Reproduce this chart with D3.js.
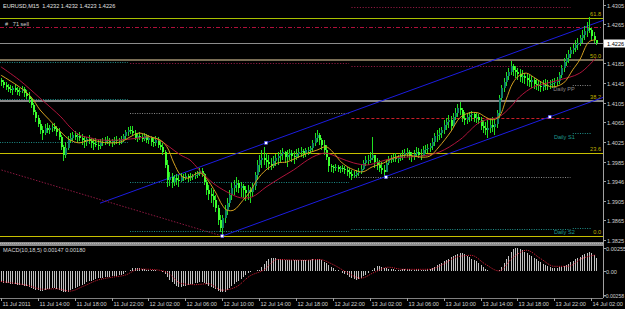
<!DOCTYPE html>
<html><head><meta charset="utf-8">
<script src="https://cdn.jsdelivr.net/npm/d3@7"></script>
<style>
body{margin:0;background:#000;}
svg{display:block;}
text{font-family:"Liberation Sans",Arial,sans-serif;}
</style>
</head><body>
<svg id="c" width="625" height="309"></svg>
<script>
// ---------------- DATA ----------------
const symbolTitle = "EURUSD,M15";
const lastOHLC = ["1.4232","1.4232","1.4223","1.4226"];
const orderText = "#   71 sell";
const startTime = "2011-07-11T10:00:00Z";   // first M15 bar
const firstOpen = 1.4151;
const bidPrice = 1.4226;
const sellPrice = 1.4259;

const high = [
1.4155,1.4151,1.4147,1.4143,1.4141,1.4139,1.4143,1.4137,1.4135,1.4139,1.4137,1.4131,1.4127,
1.4114,1.4104,1.4090,1.4080,1.4070,1.4057,1.4062,1.4064,1.4059,1.4062,1.4064,1.4057,1.4053,
1.4039,1.4019,1.4025,1.4037,1.4043,1.4045,1.4047,1.4043,1.4045,1.4041,1.4037,1.4035,1.4039,
1.4033,1.4031,1.4033,1.4029,1.4031,1.4033,1.4035,1.4037,1.4033,1.4031,1.4035,1.4037,1.4033,
1.4037,1.4041,1.4049,1.4055,1.4057,1.4057,1.4049,1.4043,1.4045,1.4041,1.4043,1.4041,1.4039,
1.4037,1.4035,1.4037,1.4035,1.4029,1.4023,1.4008,1.3988,1.3964,1.3962,1.3957,1.3960,1.3957,
1.3962,1.3960,1.3962,1.3960,1.3962,1.3960,1.3964,1.3966,1.3972,1.3972,1.3962,1.3947,1.3937,
1.3931,1.3927,1.3917,1.3896,1.3876,1.3876,1.3896,1.3911,1.3927,1.3941,1.3947,1.3953,1.3947,
1.3943,1.3939,1.3935,1.3937,1.3933,1.3941,1.3964,1.3988,1.3998,1.4008,1.4015,1.4002,1.3998,
1.3992,1.3996,1.4000,1.4004,1.4008,1.4013,1.4006,1.4008,1.4011,1.4008,1.4006,1.4011,1.4013,
1.4015,1.4011,1.4013,1.4015,1.4017,1.4029,1.4043,1.4049,1.4043,1.4033,1.4029,1.4019,1.3988,
1.3980,1.3978,1.3980,1.3978,1.3976,1.3978,1.3976,1.3974,1.3972,1.3968,1.3966,1.3968,1.3972,
1.3978,1.3988,1.3996,1.3998,1.4004,1.4035,1.3998,1.3992,1.3988,1.3984,1.3978,1.3988,1.3996,
1.3998,1.4000,1.4002,1.3998,1.4002,1.4008,1.4011,1.4013,1.4008,1.4004,1.4008,1.4015,1.4013,
1.4011,1.4017,1.4019,1.4021,1.4023,1.4033,1.4043,1.4049,1.4053,1.4055,1.4070,1.4074,1.4080,
1.4078,1.4084,1.4094,1.4102,1.4106,1.4094,1.4086,1.4084,1.4086,1.4088,1.4086,1.4084,1.4082,
1.4076,1.4070,1.4066,1.4070,1.4074,1.4076,1.4070,1.4090,1.4121,1.4141,1.4155,1.4167,1.4176,
1.4190,1.4184,1.4180,1.4176,1.4174,1.4172,1.4165,1.4163,1.4161,1.4159,1.4155,1.4153,1.4151,
1.4149,1.4151,1.4153,1.4151,1.4151,1.4153,1.4155,1.4157,1.4167,1.4182,1.4196,1.4204,1.4212,
1.4218,1.4225,1.4233,1.4237,1.4243,1.4253,1.4261,1.4269,1.4280,1.4257,1.4249,1.4232];

const low = [
1.4139,1.4135,1.4131,1.4127,1.4125,1.4121,1.4127,1.4121,1.4119,1.4125,1.4117,1.4112,1.4104,
1.4094,1.4080,1.4066,1.4055,1.4041,1.4029,1.4039,1.4043,1.4041,1.4045,1.4047,1.4037,1.4029,
1.4008,1.3986,1.3992,1.4008,1.4023,1.4027,1.4029,1.4025,1.4027,1.4019,1.4013,1.4017,1.4021,
1.4013,1.4008,1.4015,1.4008,1.4011,1.4017,1.4019,1.4021,1.4017,1.4015,1.4019,1.4021,1.4019,
1.4021,1.4025,1.4029,1.4037,1.4041,1.4037,1.4029,1.4025,1.4029,1.4025,1.4027,1.4023,1.4021,
1.4017,1.4015,1.4017,1.4013,1.4008,1.3998,1.3972,1.3933,1.3935,1.3931,1.3935,1.3937,1.3933,
1.3943,1.3945,1.3947,1.3943,1.3945,1.3947,1.3949,1.3951,1.3955,1.3953,1.3937,1.3917,1.3906,
1.3900,1.3892,1.3882,1.3856,1.3841,1.3833,1.3860,1.3876,1.3892,1.3906,1.3917,1.3923,1.3921,
1.3913,1.3911,1.3904,1.3906,1.3900,1.3913,1.3927,1.3947,1.3964,1.3972,1.3978,1.3972,1.3968,
1.3968,1.3972,1.3976,1.3978,1.3984,1.3988,1.3982,1.3974,1.3988,1.3984,1.3980,1.3988,1.3992,
1.3994,1.3992,1.3994,1.3998,1.4000,1.4004,1.4017,1.4025,1.4019,1.4008,1.3998,1.3988,1.3964,
1.3964,1.3962,1.3966,1.3964,1.3962,1.3964,1.3960,1.3955,1.3951,1.3947,1.3951,1.3953,1.3955,
1.3960,1.3968,1.3976,1.3978,1.3982,1.3988,1.3972,1.3968,1.3964,1.3960,1.3953,1.3964,1.3978,
1.3982,1.3984,1.3984,1.3982,1.3986,1.3988,1.3992,1.3994,1.3988,1.3984,1.3988,1.3994,1.3992,
1.3988,1.3996,1.4000,1.4002,1.4004,1.4008,1.4017,1.4025,1.4029,1.4033,1.4041,1.4049,1.4053,
1.4049,1.4055,1.4070,1.4076,1.4080,1.4066,1.4059,1.4062,1.4066,1.4068,1.4066,1.4064,1.4062,
1.4049,1.4043,1.4039,1.4033,1.4043,1.4045,1.4039,1.4053,1.4074,1.4110,1.4127,1.4139,1.4151,
1.4161,1.4159,1.4155,1.4151,1.4147,1.4145,1.4143,1.4139,1.4137,1.4135,1.4133,1.4131,1.4129,
1.4127,1.4129,1.4131,1.4131,1.4133,1.4135,1.4137,1.4139,1.4143,1.4155,1.4167,1.4180,1.4186,
1.4196,1.4204,1.4208,1.4212,1.4220,1.4227,1.4233,1.4239,1.4247,1.4233,1.4227,1.4223];

const close = [
1.4147,1.4141,1.4137,1.4133,1.4131,1.4135,1.4131,1.4127,1.4129,1.4133,1.4125,1.4119,1.4112,
1.4100,1.4086,1.4074,1.4062,1.4049,1.4043,1.4053,1.4049,1.4053,1.4055,1.4051,1.4045,1.4035,
1.4015,1.3998,1.4013,1.4029,1.4033,1.4039,1.4035,1.4037,1.4033,1.4029,1.4025,1.4031,1.4027,
1.4023,1.4021,1.4019,1.4017,1.4025,1.4023,1.4029,1.4027,1.4025,1.4027,1.4029,1.4027,1.4029,
1.4031,1.4037,1.4045,1.4049,1.4047,1.4043,1.4033,1.4037,1.4035,1.4031,1.4037,1.4029,1.4033,
1.4025,1.4023,1.4029,1.4019,1.4015,1.4004,1.3978,1.3947,1.3953,1.3943,1.3951,1.3947,1.3945,
1.3953,1.3951,1.3955,1.3951,1.3953,1.3955,1.3957,1.3962,1.3966,1.3960,1.3943,1.3927,1.3919,
1.3915,1.3906,1.3890,1.3866,1.3849,1.3870,1.3886,1.3900,1.3917,1.3931,1.3937,1.3941,1.3931,
1.3935,1.3927,1.3921,1.3927,1.3923,1.3935,1.3957,1.3978,1.3988,1.3992,1.3988,1.3984,1.3980,
1.3976,1.3986,1.3992,1.3996,1.4000,1.4004,1.3994,1.3998,1.4002,1.3996,1.3994,1.4000,1.4004,
1.4006,1.4002,1.4008,1.4008,1.4013,1.4023,1.4033,1.4039,1.4029,1.4019,1.4008,1.3994,1.3976,
1.3974,1.3972,1.3974,1.3970,1.3972,1.3970,1.3968,1.3964,1.3960,1.3955,1.3957,1.3962,1.3964,
1.3970,1.3982,1.3988,1.3988,1.3992,1.3998,1.3984,1.3978,1.3972,1.3968,1.3964,1.3982,1.3988,
1.3992,1.3994,1.3990,1.3992,1.3996,1.3998,1.4002,1.4004,1.3996,1.3994,1.4000,1.4004,1.3998,
1.3996,1.4008,1.4011,1.4013,1.4017,1.4025,1.4037,1.4039,1.4043,1.4049,1.4059,1.4066,1.4070,
1.4057,1.4076,1.4084,1.4094,1.4090,1.4074,1.4070,1.4076,1.4080,1.4082,1.4074,1.4076,1.4070,
1.4057,1.4053,1.4049,1.4053,1.4059,1.4055,1.4062,1.4084,1.4114,1.4135,1.4147,1.4159,1.4167,
1.4180,1.4172,1.4167,1.4163,1.4157,1.4159,1.4155,1.4151,1.4147,1.4151,1.4143,1.4141,1.4139,
1.4137,1.4141,1.4139,1.4141,1.4143,1.4145,1.4147,1.4149,1.4161,1.4176,1.4188,1.4196,1.4204,
1.4212,1.4216,1.4222,1.4227,1.4237,1.4243,1.4251,1.4257,1.4253,1.4241,1.4232,1.4226];

// moving averages read at sample bars (bar index, price)
const maFastIdx = [0,8,13,17,21,26,30,34,39,43,47,52,56,60,65,69,72,75,78,81,86,89,93,96,98,101,105,108,111,115,120,124,128,133,137,141,144,148,153,157,161,166,170,176,182,186,190,195,199,203,207,210,213,216,219,222,225,228,231,235,239,244,248,251,255,258];
const maFast    = [1.4161,1.4137,1.4117,1.4090,1.4070,1.4045,1.4029,1.4023,1.4029,1.4025,1.4023,1.4025,1.4035,1.4043,1.4035,1.4029,1.4015,1.3982,1.3957,1.3951,1.3962,1.3951,1.3923,1.3896,1.3886,1.3886,1.3906,1.3923,1.3947,1.3968,1.3982,1.3984,1.3992,1.4002,1.4008,1.4015,1.4004,1.3982,1.3968,1.3964,1.3974,1.3982,1.3992,1.3998,1.3994,1.3996,1.4015,1.4045,1.4074,1.4084,1.4084,1.4076,1.4070,1.4076,1.4110,1.4145,1.4161,1.4165,1.4157,1.4145,1.4137,1.4145,1.4172,1.4192,1.4229,1.4233];
const maSlowIdx = [0,8,17,26,30,34,39,43,52,60,65,70,73,78,82,86,92,98,104,109,115,121,127,133,137,141,147,153,159,164,170,176,182,190,199,208,216,221,225,231,237,242,251,258];
const maSlow    = [1.4178,1.4151,1.4114,1.4076,1.4055,1.4039,1.4033,1.4029,1.4029,1.4033,1.4035,1.4025,1.4015,1.3998,1.3988,1.3968,1.3941,1.3923,1.3911,1.3913,1.3933,1.3951,1.3968,1.3988,1.3998,1.4002,1.3992,1.3982,1.3978,1.3984,1.3992,1.3994,1.3996,1.4004,1.4029,1.4066,1.4076,1.4096,1.4117,1.4137,1.4145,1.4151,1.4165,1.4196];

// MACD(10,18,5) main histogram per bar
const macd = [
-0.00120,-0.00125,-0.00130,-0.00130,-0.00135,-0.00140,-0.00140,-0.00145,-0.00150,-0.00150,-0.00155,-0.00160,-0.00170,-0.00180,-0.00190,-0.00200,
-0.00205,-0.00210,-0.00210,-0.00205,-0.00195,-0.00190,-0.00180,
-0.00185,-0.00190,-0.00200,-0.00210,-0.00225,-0.00230,
-0.00220,-0.00205,-0.00190,-0.00180,-0.00170,-0.00160,
-0.00150,-0.00135,-0.00120,-0.00110,-0.00100,-0.00090,-0.00080,
-0.00075,-0.00070,-0.00070,-0.00065,-0.00060,-0.00060,-0.00055,-0.00050,-0.00050,-0.00045,-0.00040,
-0.00025,-0.00010,0.00005,0.00020,0.00035,0.00040,
0.00040,0.00035,0.00030,0.00025,0.00020,
0.00015,0.00015,0.00010,0.00010,0.00005,0.00000,-0.00010,-0.00030,-0.00060,
-0.00090,-0.00120,-0.00140,-0.00160,-0.00170,
-0.00170,-0.00165,-0.00160,-0.00150,-0.00140,-0.00135,-0.00130,-0.00125,-0.00120,
-0.00120,-0.00130,-0.00140,-0.00155,-0.00170,-0.00180,-0.00195,-0.00210,-0.00225,-0.00230,-0.00220,
-0.00200,-0.00180,-0.00160,-0.00140,-0.00120,-0.00100,-0.00080,-0.00060,-0.00040,-0.00020,
-0.00010,0.00000,0.00005,0.00010,0.00020,
0.00050,0.00080,0.00110,0.00130,0.00150,
0.00150,0.00145,0.00140,0.00135,0.00130,0.00125,0.00120,0.00120,
0.00120,0.00120,0.00125,0.00120,0.00120,0.00125,0.00120,0.00125,0.00125,0.00130,0.00135,0.00140,0.00130,
0.00120,0.00105,0.00090,0.00070,0.00050,0.00035,0.00020,0.00010,0.00000,
-0.00015,-0.00030,-0.00045,-0.00060,-0.00070,-0.00080,-0.00090,
-0.00085,-0.00070,-0.00055,-0.00040,-0.00020,0.00000,
0.00020,0.00040,0.00055,0.00060,0.00050,0.00040,
0.00035,0.00030,0.00025,0.00025,0.00020,0.00020,0.00020,0.00025,0.00025,0.00030,0.00025,0.00020,0.00020,0.00025,0.00025,0.00020,0.00020,0.00020,0.00025,0.00030,0.00040,0.00050,
0.00065,0.00080,0.00095,0.00110,0.00125,0.00140,0.00155,0.00170,0.00180,0.00190,0.00200,
0.00195,0.00185,0.00170,0.00155,0.00140,0.00125,0.00110,0.00090,0.00070,0.00050,0.00030,0.00015,0.00005,
0.00000,0.00000,0.00005,0.00020,
0.00050,0.00090,0.00130,0.00170,0.00210,0.00240,0.00260,
0.00255,0.00245,0.00230,0.00215,0.00200,0.00180,0.00165,0.00150,0.00130,0.00115,0.00100,0.00085,0.00070,0.00055,0.00045,
0.00040,0.00040,0.00040,0.00045,0.00050,0.00060,0.00070,
0.00085,0.00100,0.00115,0.00130,0.00145,0.00160,0.00175,0.00190,0.00200,0.00210,
0.00200,0.00180,0.00147];
const signalIdx = [0,6,12,18,24,30,36,42,48,54,60,66,72,78,84,90,96,102,108,114,120,126,132,138,144,150,156,162,168,174,180,186,192,198,204,210,216,222,228,234,240,246,252,258];
const signal    = [-0.0011,-0.0013,-0.00155,-0.00195,-0.0019,-0.00215,-0.0016,-0.00095,-0.00065,-0.0004,0.00025,0.0002,-0.0001,-0.0013,-0.00145,-0.00135,-0.00205,-0.0017,-0.0005,0.00015,0.0013,0.00125,0.00122,0.0013,0.00075,-0.0001,-0.00075,-0.0001,0.00045,0.00023,0.00022,0.00023,0.0008,0.0016,0.00175,0.0008,0.00005,0.0015,0.0023,0.0014,0.00055,0.00055,0.0014,0.0018];
const macdTitle = "MACD(10,18,5) 0.00147 0.00180";

// axes
const priceTicks = [1.4305,1.4265,1.4185,1.4145,1.4105,1.4065,1.4025,1.3985,1.3945,1.3905,1.3865,1.3825];
const priceTickLabels = ["1.4305","1.4265","1.4185","1.4145","1.4105","1.4065","1.4025","1.3985","1.3946","1.3905","1.3865","1.3825"];
const macdTicks = [0.00255,0,-0.00258];
const macdTickLabels = ["0.00255","0.00","-0.00258"];
const timeTickBars = [0,16,32,48,64,80,96,112,128,144,160,176,192,208,224,240,256];
const timeTickLabels = ["11 Jul 2011","11 Jul 14:00","11 Jul 18:00","11 Jul 22:00","12 Jul 02:00","12 Jul 06:00","12 Jul 10:00","12 Jul 14:00","12 Jul 18:00","12 Jul 22:00","13 Jul 02:00","13 Jul 06:00","13 Jul 10:00","13 Jul 14:00","13 Jul 18:00","13 Jul 22:00","14 Jul 02:00"];

// Fibonacci retracement
const fibLow = 1.3833, fibHigh = 1.4552;
const fibLevels = [0, 23.6, 38.2, 50.0, 61.8];
const fibLabels = ["0.0","23.6","38.2","50.0","61.8"];

// daily pivot segments: [dayStartBar, dayEndBar, price, kind]
const pivotSegments = [
 [-40, 55, 1.4188, "s"], [-40, 55, 1.4112, "s"], [-40, 55, 1.4025, "s"],
 [56, 151, 1.4186, "r"], [56, 151, 1.4084, "p"], [56, 151, 1.3943, "s"], [56, 151, 1.3843, "s"],
 [152, 247, 1.4300, "r"], [152, 247, 1.4180, "r"], [152, 247, 1.4074, "r1"], [152, 247, 1.3953, "p"], [152, 247, 1.3847, "s"],
 [248, 256, 1.4141, "p"], [248, 256, 1.4043, "s"], [248, 256, 1.3849, "s"]];
const pivotLabels = [["Daily PP",1.4141,"p"],["Daily S1",1.4043,"s"],["Daily S2",1.3849,"s"]];

// trend lines: [bar1, price1, bar2, price2, drawFromBar, drawToBar]
const channelUpper = [43, 1.3900, 115, 1.4023, 43, 262];
const channelLower = [96, 1.3833, 238, 1.4076, 96, 262];
const trendDown    = [0, 1.3968, 96, 1.3833, -1, 96];
const anchorPoints = [[96,1.3833],[115,1.4023],[167,1.3953],[238,1.4076]];

// ---------------- DRAW ----------------
const W = 625, H = 309, axisX = 603;
const svg = d3.select("#c");
svg.append("rect").attr("width",W).attr("height",H).attr("fill","#000");

const t0 = new Date(startTime).getTime();
const barTime = i => new Date(t0 + i*15*60000);
const x = d3.scaleUtc()
  .domain([new Date(t0 - 351*1000), new Date(t0 + 261.5*15*60000 - 351*1000)])
  .range([0, axisX]);
const xb = i => x(barTime(i));
const y = d3.scaleLinear().domain([1.3825, 1.4305]).range([240, 4.5]);
const ym = d3.scaleLinear().domain([-0.00258, 0.00255]).range([295, 248]);

const defs = svg.append("defs");
defs.append("clipPath").attr("id","mainClip").append("rect").attr("x",0).attr("y",0).attr("width",axisX).attr("height",242);
defs.append("clipPath").attr("id","macdClip").append("rect").attr("x",0).attr("y",247).attr("width",axisX).attr("height",51);

const main = svg.append("g").attr("clip-path","url(#mainClip)");

// pivot lines
const pivColor = {s:"#1f8f8a", p:"#8a8a8a", r:"#8c1840", r1:"#c81e28"};
const pivDash = {s:"1,1.4", p:"1,1.4", r:"1.2,1.6", r1:"3,2"};
main.selectAll("line.piv").data(pivotSegments).join("line")
  .attr("x1",d=>xb(d[0])).attr("x2",d=>xb(d[1]))
  .attr("y1",d=>Math.round(y(d[2]))+0.5).attr("y2",d=>Math.round(y(d[2]))+0.5)
  .attr("stroke",d=>pivColor[d[3]]).attr("stroke-width",1)
  .attr("stroke-dasharray",d=>pivDash[d[3]]);
main.selectAll("text.piv").data(pivotLabels).join("text")
  .attr("x", xb(248)+2).attr("y", d=>y(d[1])+6)
  .attr("text-anchor","end").attr("font-size",5.6)
  .attr("fill", d=>d[2]==="p" ? "#8a8a8a" : "#1f9a8f").text(d=>d[0]);

// fibonacci lines
const fibPrice = l => fibLow + (fibHigh - fibLow)*l/100;
const fibColor = ["#c8c000","#c8c000","#8a8a8a","#7a6e55","#a8c000"];
const fibWidth = [1,1,2,2,1];
fibLevels.forEach((l,k)=>{
  const yy = Math.round(y(fibPrice(l)));
  main.append("line").attr("x1",0).attr("x2",axisX)
    .attr("y1",yy+(fibWidth[k]===1?0.5:0)).attr("y2",yy+(fibWidth[k]===1?0.5:0))
    .attr("stroke",fibColor[k]).attr("stroke-width",fibWidth[k]);
  main.append("text").attr("x",axisX-2).attr("y",yy-2).attr("text-anchor","end")
    .attr("font-size",5.6).attr("fill","#c0b000").text(fibLabels[k]);
});

// trend lines
function seg(def){
  const [b1,p1,b2,p2,bs,be] = def;
  const slope = (p2-p1)/(b2-b1);
  return [[xb(bs),y(p1+slope*(bs-b1))],[xb(be),y(p1+slope*(be-b1))]];
}
[[channelUpper,"#1c1ce0","none"],[channelLower,"#1c1ce0","none"],[trendDown,"#8c1840","1.5,1.5"]].forEach(([def,col,dash])=>{
  const pts = seg(def);
  main.append("line").attr("x1",pts[0][0]).attr("y1",pts[0][1]).attr("x2",pts[1][0]).attr("y2",pts[1][1])
    .attr("stroke",col).attr("stroke-width",1).attr("stroke-dasharray",dash);
});

// sell order line
const ySell = Math.round(y(sellPrice))+0.5;
main.append("line").attr("x1",0).attr("x2",axisX).attr("y1",ySell).attr("y2",ySell)
  .attr("stroke","#b0103a").attr("stroke-width",1).attr("stroke-dasharray","4,2,1,2");
main.append("text").attr("x",5).attr("y",ySell-2).attr("font-size",5.6).attr("fill","#d0d0d0")
  .attr("xml:space","preserve").text(orderText);

// bid line
const yBid = Math.round(y(bidPrice))+0.5;
main.append("line").attr("x1",0).attr("x2",axisX).attr("y1",yBid).attr("y2",yBid)
  .attr("stroke","#8c8c8c").attr("stroke-width",1);

// candles
const bars = close.map((c,i)=>({i, o: i ? close[i-1] : firstOpen, h: high[i], l: low[i], c}));
const cg = main.append("g").attr("shape-rendering","crispEdges");
cg.selectAll("line").data(bars).join("line")
  .attr("x1",d=>Math.round(xb(d.i))+0.5).attr("x2",d=>Math.round(xb(d.i))+0.5)
  .attr("y1",d=>y(d.h)).attr("y2",d=>y(d.l))
  .attr("stroke","#20e020").attr("stroke-width",1);
cg.selectAll("rect").data(bars).join("rect")
  .attr("x",d=>Math.round(xb(d.i))-0.5).attr("width",2)
  .attr("y",d=>y(Math.max(d.o,d.c)))
  .attr("height",d=>Math.max(1, Math.abs(y(d.o)-y(d.c))))
  .attr("fill",d=>d.c>=d.o ? "#0e7e68" : "#40ff30");

// anchor points
main.selectAll("rect.anc").data(anchorPoints).join("rect")
  .attr("x",d=>xb(d[0])-1.5).attr("y",d=>y(d[1])-1.5).attr("width",3).attr("height",3)
  .attr("fill","#ffffff").attr("stroke","#3030ff").attr("stroke-width",0.5);

// moving averages
const maLine = d3.line().curve(d3.curveCatmullRom.alpha(0.5));
main.append("path").attr("d", maLine(maSlowIdx.map((b,k)=>[xb(b), y(maSlow[k])])))
  .attr("fill","none").attr("stroke","#b0143c").attr("stroke-width",1);
main.append("path").attr("d", maLine(maFastIdx.map((b,k)=>[xb(b), y(maFast[k])])))
  .attr("fill","none").attr("stroke","#d4a020").attr("stroke-width",1);

// title text
svg.append("text").attr("x",3).attr("y",8).attr("font-size",5.6).attr("fill","#e0e0e0")
  .attr("xml:space","preserve").text(symbolTitle + "  " + lastOHLC.join(" "));

// separator band
svg.append("rect").attr("x",0).attr("y",242).attr("width",axisX).attr("height",4).attr("fill","#8c8c8c");
svg.append("line").attr("x1",0).attr("x2",axisX).attr("y1",243.5).attr("y2",243.5).attr("stroke","#b4b4b4").attr("stroke-width",1).attr("stroke-dasharray","1,1");

// MACD panel
const mg = svg.append("g").attr("clip-path","url(#macdClip)");
mg.append("g").attr("shape-rendering","crispEdges").selectAll("line").data(macd).join("line")
  .attr("x1",(d,i)=>Math.round(xb(i))+0.5).attr("x2",(d,i)=>Math.round(xb(i))+0.5)
  .attr("y1",ym(0)).attr("y2",d=>ym(d))
  .attr("stroke","#c0c0c0").attr("stroke-width",1);
mg.append("path").attr("d", d3.line().curve(d3.curveMonotoneX)(signalIdx.map((b,k)=>[xb(b), ym(signal[k])])))
  .attr("fill","none").attr("stroke","#e8203a").attr("stroke-width",1).attr("stroke-dasharray","1,1.2");
svg.append("text").attr("x",3).attr("y",252).attr("font-size",5.6).attr("fill","#d8d8d8").text(macdTitle);

// axes frame
svg.append("line").attr("x1",axisX+0.5).attr("x2",axisX+0.5).attr("y1",0).attr("y2",298).attr("stroke","#a0a0a0");
svg.append("line").attr("x1",0).attr("x2",axisX).attr("y1",298.5).attr("y2",298.5).attr("stroke","#808080");

// price axis
const pa = svg.append("g");
priceTicks.forEach((p,k)=>{
  const yy = Math.round(y(p))+0.5;
  pa.append("line").attr("x1",axisX).attr("x2",axisX+3).attr("y1",yy).attr("y2",yy).attr("stroke","#a0a0a0");
  pa.append("text").attr("x",axisX+4).attr("y",yy+2).attr("font-size",5.6).attr("fill","#d0d0d0").text(priceTickLabels[k]);
});
pa.append("rect").attr("x",axisX+1).attr("y",yBid-4).attr("width",W-axisX-1).attr("height",8).attr("fill","#ffffff");
pa.append("text").attr("x",axisX+4).attr("y",yBid+2).attr("font-size",5.6).attr("fill","#000").text(bidPrice.toFixed(4));

// macd axis
macdTicks.forEach((v,k)=>{
  const yy = Math.round(ym(v))+0.5;
  pa.append("line").attr("x1",axisX).attr("x2",axisX+3).attr("y1",yy).attr("y2",yy).attr("stroke","#a0a0a0");
  const neg = macdTickLabels[k].startsWith("-");
  pa.append("text").attr("x",neg ? axisX+1 : axisX+3).attr("y",yy+2)
    .attr("font-size",neg ? 5.1 : 5.6).attr("fill","#d0d0d0").text(macdTickLabels[k]);
});

// time axis
timeTickBars.forEach((b,k)=>{
  const xx = Math.round(xb(b))+0.5;
  pa.append("line").attr("x1",xx).attr("x2",xx).attr("y1",298).attr("y2",301).attr("stroke","#a0a0a0");
  pa.append("text").attr("x",xx+1).attr("y",305.5).attr("font-size",5.6).attr("fill","#d0d0d0").text(timeTickLabels[k]);
});
</script>
</body></html>
